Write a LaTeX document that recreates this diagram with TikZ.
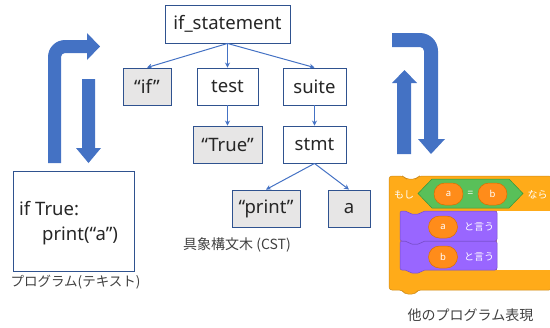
\documentclass[tikz,border=0pt]{standalone}
\usepackage{fontspec}
\setmainfont{Noto Sans}
\newfontfamily\jp{Noto Sans CJK JP}
\usetikzlibrary{arrows.meta}
\definecolor{nodeborder}{HTML}{2F528F}
\definecolor{litfill}{HTML}{E7E6E6}
\definecolor{edgeblue}{HTML}{4472C4}
\definecolor{bigblue}{HTML}{4472C4}
\definecolor{txt}{HTML}{262626}
\definecolor{lbl}{HTML}{404040}
\definecolor{scorange}{HTML}{FFAB19}
\definecolor{scorangeb}{HTML}{CF8B17}
\definecolor{scoval}{HTML}{FF8C1A}
\definecolor{scovalb}{HTML}{DB6E00}
\definecolor{scgreen}{HTML}{59C059}
\definecolor{scgreenb}{HTML}{389438}
\definecolor{scpurple}{HTML}{9966FF}
\definecolor{scpurpleb}{HTML}{774DCB}
\tikzset{
  treenode/.style={draw=nodeborder, line width=0.9bp, fill=white, minimum height=37bp, inner sep=0pt, text=txt, font=\fontsize{18.5bp}{22bp}\selectfont},
  litnode/.style={treenode, fill=litfill},
  treeedge/.style={draw=edgeblue, line width=1bp, -{Stealth[length=5bp,width=5bp]}},
  bigarrow/.style={fill=bigblue},
  lbltext/.style={text=lbl, inner sep=0pt, font=\jp\fontsize{13.5bp}{15bp}\selectfont},
  codetext/.style={text=txt, inner sep=0pt, anchor=base west, font=\fontsize{18.5bp}{22bp}\selectfont},
  scoval/.style={fill=scoval, draw=scovalb, line width=0.5bp, rounded corners=11bp, minimum width=29bp, minimum height=22bp, inner sep=0pt, text=white, font=\fontsize{9.5bp}{10bp}\selectfont},
  sctext/.style={text=white, inner sep=0pt, font=\jp\fontsize{10bp}{11bp}\selectfont},
}
\begin{document}
\begin{tikzpicture}[x=1bp,y=-1bp]
\useasboundingbox (0,0) rectangle (550,327);

% big arrows left
\fill[bigarrow] (48,163) -- (48,57) .. controls (48,47.6) and (55.6,40) .. (65,40) -- (87,40) -- (87,33) -- (100,46.5) -- (87,60) -- (87,53) -- (65,53) .. controls (62.8,53) and (61,54.8) .. (61,57) -- (61,163) -- cycle;
\fill[bigarrow] (82,79) -- (95,79) -- (95,148) -- (101,148) -- (88.5,163) -- (76,148) -- (82,148) -- cycle;
% big arrows right
\fill[bigarrow] (392,33) -- (420,33) .. controls (429.9,33) and (438,41.1) .. (438,51) -- (438,139) -- (445,139) -- (431,154) -- (418,139) -- (424,139) -- (424,51) .. controls (424,48.8) and (422.2,47) .. (420,47) -- (392,47) -- cycle;
\fill[bigarrow] (397,154) -- (397,83) -- (392,83) -- (404.5,70) -- (417,83) -- (411,83) -- (411,154) -- cycle;

% tree
\node[treenode, minimum width=125bp, minimum height=38bp] (ifs) at (227.5,24) {if\_statement};
\node[litnode, minimum width=48bp] (kif) at (147,86.5) {“if”};
\node[treenode, minimum width=61bp] (test) at (227.5,86.5) {test};
\node[treenode, minimum width=63bp] (suite) at (314.5,86.5) {suite};
\node[litnode, minimum width=69bp] (true) at (227.5,144.5) {“True”};
\node[treenode, minimum width=63bp] (stmt) at (314.5,144.5) {stmt};
\node[litnode, minimum width=68bp] (print) at (266,208.5) {“print”};
\node[litnode, minimum width=42bp] (av) at (349,208.5) {a};

\draw[treeedge] (ifs.south) -- (kif.north);
\draw[treeedge] (ifs.south) -- (test.north);
\draw[treeedge] (ifs.south) -- (suite.north);
\draw[treeedge] (test.south) -- (true.north);
\draw[treeedge] (suite.south) -- (stmt.north);
\draw[treeedge] (stmt.south) -- (print.north);
\draw[treeedge] (stmt.south) -- (av.north);

\node[lbltext, anchor=west, font=\jp\fontsize{14bp}{16bp}\selectfont] (cst) at (183,245) {具象構文木 (CST)};

% program text box
\draw[draw=nodeborder, line width=0.9bp] (13,171) rectangle (134,271);
\node[codetext] (l1) at (19,215) {if True:};
\node[codetext] (l2) at (42,240) {print(“a”)};
\node[lbltext] (plbl) at (75.5,282) {プログラム(テキスト)};

% scratch block
\draw[fill=scorange, draw=scorangeb, line width=0.5bp, rounded corners=3bp]
  (389,176) -- (403,176) -- (406,179) -- (416,179) -- (419,176) -- (552,176) -- (552,290) -- (418,290) -- (415,294) -- (405,294) -- (402,290) -- (389,290) -- cycle;
\fill[white] (497,210.5) rectangle (551,270);
% purple block 2
\draw[fill=scpurple, draw=scpurpleb, line width=0.5bp, rounded corners=2bp]
  (400,241) -- (407,241) -- (410,244) -- (420,244) -- (423,241) -- (497,241) -- (497,270) -- (423,270) -- (420,273) -- (410,273) -- (407,270) -- (400,270) -- cycle;
% purple block 1
\draw[fill=scpurple, draw=scpurpleb, line width=0.5bp, rounded corners=2bp]
  (400,211) -- (407,211) -- (410,214) -- (420,214) -- (423,211) -- (497,211) -- (497,241) -- (423,241) -- (420,244) -- (410,244) -- (407,241) -- (400,241) -- cycle;
% hexagon
\draw[fill=scgreen, draw=scgreenb, line width=0.5bp] (418,193.5) -- (432,179) -- (509,179) -- (523,193.5) -- (509,208) -- (432,208) -- cycle;
\node[scoval] (oa) at (448.5,194) {a};
\node[sctext] (eq) at (470.5,194) {=};
\node[scoval] (ob) at (492.5,194) {b};
\node[sctext] (moshi) at (404,195) {もし};
\node[sctext] (nara) at (537.5,195) {なら};
\node[scoval] (sa) at (443,227) {a};
\node[sctext] (say1) at (479,227) {と言う};
\node[scoval] (sb) at (443,257) {b};
\node[sctext] (say2) at (479,257) {と言う};

\node[lbltext, font=\jp\fontsize{14bp}{16bp}\selectfont] (olbl) at (470.5,315) {他のプログラム表現};
\end{tikzpicture}
\end{document}
